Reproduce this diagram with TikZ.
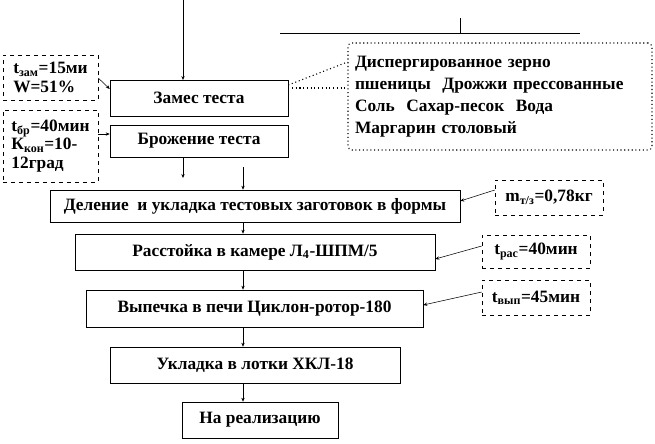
\documentclass[tikz,border=0pt]{standalone}
\usepackage{fontspec}
\setmainfont{Liberation Serif}
\usetikzlibrary{arrows.meta}

\newcommand{\sub}[1]{\textsubscript{\fontsize{9}{9}\selectfont#1}}

\begin{document}
\begin{tikzpicture}[x=0.75pt,y=-0.75pt,font=\bfseries\fontsize{13}{15}\selectfont,
  stage/.style={draw,thin,inner sep=0pt},
  param/.style={draw,thin,dashed,inner sep=2pt,align=left},
  flow/.style={-{Stealth[length=3pt,width=2.5pt]},thin}]
  \useasboundingbox (0,0) rectangle (655,443);
  % process stages
  \node[stage,minimum width=178*0.75pt,minimum height=36*0.75pt] (zames) at (199,98) {Замес теста};
  \node[stage,minimum width=178*0.75pt,minimum height=32*0.75pt] (brozh) at (199,141) {Брожение теста};
  \node[stage,minimum width=410*0.75pt,minimum height=32*0.75pt] (delen) at (255,206) {Деление\ \ и укладка тестовых заготовок в формы};
  \node[stage,minimum width=360*0.75pt,minimum height=36*0.75pt] (rasst) at (255,252) {Расстойка в камере Л\sub{4}-ШПМ/5};
  \node[stage,minimum width=337*0.75pt,minimum height=37*0.75pt] (vypech) at (254.5,308.5) {Выпечка в печи Циклон-ротор-180};
  \node[stage,minimum width=290*0.75pt,minimum height=36*0.75pt] (uklad) at (255,365) {Укладка в лотки ХКЛ-18};
  \node[stage,minimum width=156*0.75pt,minimum height=36*0.75pt] (real) at (260,420) {На реализацию};
  % parameters
  \node[param,minimum width=95*0.75pt,minimum height=45*0.75pt,font=\bfseries\fontsize{13}{14}\selectfont] (pzam) at (50.5,77.5) {t\sub{зам}=15ми\\W=51\%};
  \node[param,minimum width=95*0.75pt,minimum height=72*0.75pt,font=\bfseries\fontsize{13}{14}\selectfont] (pbr) at (50.5,146) {t\sub{бр}=40мин\\К\sub{кон}=10-\\12град};
  \node[param,minimum width=108*0.75pt,minimum height=35*0.75pt] (pmass) at (549,197.5) {m\sub{т/з}=0,78кг};
  \node[param,minimum width=108*0.75pt,minimum height=33*0.75pt] (pras) at (536,251.5) {t\sub{рас}=40мин};
  \node[param,minimum width=108*0.75pt,minimum height=35*0.75pt] (pvyp) at (536,297.5) {t\sub{вып}=45мин};
  \node[draw,thick,dotted,rounded corners=3pt,minimum width=304*0.75pt,minimum height=107*0.75pt,
    text width=290*0.75pt,align=left,inner sep=0pt,font=\bfseries\fontsize{13}{16.5}\selectfont] (ingr) at (500,96.5)
    {Диспергированное зерно\\пшеницы\ \ Дрожжи прессованные\\Соль\ \ Сахар-песок\ \ Вода\\Маргарин столовый};
  % lines
  \coordinate (top) at (183,0);
  \draw[flow] (top) -- (183,80);
  \draw[thin] (280,33) -- (580,33) (460,33) -- (460,18);
  \draw[thick,dotted] (zames.east |- 0,85) -- (ingr.west |- 0,62);
  \draw[thick,dotted] (zames.east |- 0,88) -- (ingr.west |- 0,88);
  \draw[flow] (pzam.east |- 0,78) -- (zames.west |- 0,89);
  \draw[flow] (pbr.east |- 0,134) -- (brozh.west |- 0,134);
  \draw[flow] (183,157) -- (183,178);
  \draw[flow] (243,167) -- (delen.north -| 243,0);
  \draw[flow] (delen.south -| 243,0) -- (rasst.north -| 243,0);
  \draw[flow] (rasst.south -| 243,0) -- (vypech.north -| 243,0);
  \draw[flow] (vypech.south -| 243,0) -- (uklad.north -| 243,0);
  \draw[flow] (uklad.south -| 243,0) -- (real.north -| 243,0);
  \draw[flow] (pmass.west |- 0,190) -- (delen.east |- 0,201);
  \draw[flow] (pras.west |- 0,246) -- (rasst.east |- 0,259);
  \draw[flow] (pvyp.west |- 0,292) -- (vypech.east |- 0,305);
\end{tikzpicture}
\end{document}
